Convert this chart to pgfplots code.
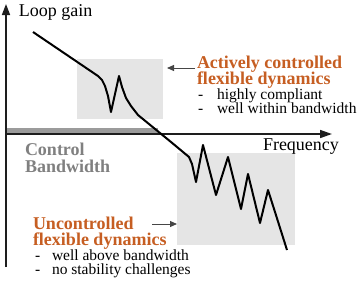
\documentclass[border=0pt]{standalone}
\usepackage{pgfplots}
\pgfplotsset{compat=1.18}
\usepackage{fontspec}
\setmainfont{Liberation Serif}
\usetikzlibrary{arrows.meta}
\definecolor{burnt}{RGB}{198,94,34}
\definecolor{boxgray}{RGB}{229,229,229}
\definecolor{bandgray}{RGB}{155,155,155}
\definecolor{labgray}{RGB}{128,128,128}
\definecolor{axdark}{RGB}{30,30,30}
\definecolor{arrgray}{RGB}{70,70,70}
\tikzset{lab/.style={inner sep=0pt, outer sep=0pt, anchor=base west}}
\begin{document}
\begin{tikzpicture}
\begin{axis}[
  width=359pt, height=282pt, scale only axis,
  xmin=0, xmax=359, ymin=0, ymax=282, y dir=reverse,
  axis lines=none, clip=false,
]
\path (axis cs:0,0) rectangle (axis cs:359,282);
% shaded boxes
\fill[boxgray] (axis cs:77,59) rectangle (axis cs:163,119);
\fill[boxgray] (axis cs:177,153) rectangle (axis cs:295,245);
% control bandwidth band
\draw[bandgray, line width=5pt] (axis cs:6,130) -- (axis cs:158,130);
% axes
\draw[axdark, line width=1.6pt, -{Triangle[length=11pt,width=8pt]}] (axis cs:6,267) -- (axis cs:6,4);
\draw[axdark, line width=1.6pt, -{Triangle[length=12pt,width=8pt]}] (axis cs:5.2,134) -- (axis cs:332,134);
% loop gain curve
\addplot[black, line width=2pt, line join=round] coordinates {
 (33,32) (98,76) (102,80) (105,86) (108,96) (111,112) (119,76)
 (122,87) (126,98) (131,106) (138,115) (160,133) (171,142) (183,152)
 (189,157) (192,164) (196,182) (203,145) (216,195) (228,157)
 (241,209) (248,174) (260,223) (268,190) (275,212) (287,250)
};
% annotation arrows
\draw[arrgray, line width=1pt, -{Triangle[length=7pt,width=6pt]}] (axis cs:195,68) -- (axis cs:167,68);
\draw[arrgray, line width=1pt, -{Triangle[length=7pt,width=6pt]}] (axis cs:152,224) -- (axis cs:177,224);
% texts
\node[lab] at (axis cs:19,16) {\fontsize{18}{18}\selectfont Loop gain};
\node[lab] at (axis cs:263,150) {\fontsize{18}{18}\selectfont Frequency};
\node[lab, text=burnt] at (axis cs:197,68) {\fontsize{18}{18}\selectfont\bfseries Actively controlled};
\node[lab, text=burnt] at (axis cs:197,84) {\fontsize{18}{18}\selectfont\bfseries flexible dynamics};
\node[lab] at (axis cs:198,99) {\fontsize{15.5}{15.5}\selectfont -};
\node[lab] at (axis cs:217,99) {\fontsize{15.5}{15.5}\selectfont highly compliant};
\node[lab] at (axis cs:198,113) {\fontsize{15.5}{15.5}\selectfont -};
\node[lab] at (axis cs:217,113) {\fontsize{15.5}{15.5}\selectfont well within bandwidth};
\node[lab, text=labgray] at (axis cs:25,155) {\fontsize{18}{18}\selectfont\bfseries Control};
\node[lab, text=labgray] at (axis cs:25,172) {\fontsize{18}{18}\selectfont\bfseries Bandwidth};
\node[lab, text=burnt] at (axis cs:33,229) {\fontsize{18}{18}\selectfont\bfseries Uncontrolled};
\node[lab, text=burnt] at (axis cs:33,245) {\fontsize{18}{18}\selectfont\bfseries flexible dynamics};
\node[lab] at (axis cs:35,260) {\fontsize{15.5}{15.5}\selectfont -};
\node[lab] at (axis cs:52,260) {\fontsize{15.5}{15.5}\selectfont well above bandwidth};
\node[lab] at (axis cs:35,274) {\fontsize{15.5}{15.5}\selectfont -};
\node[lab] at (axis cs:52,274) {\fontsize{15.5}{15.5}\selectfont no stability challenges};
\end{axis}
\end{tikzpicture}
\end{document}
